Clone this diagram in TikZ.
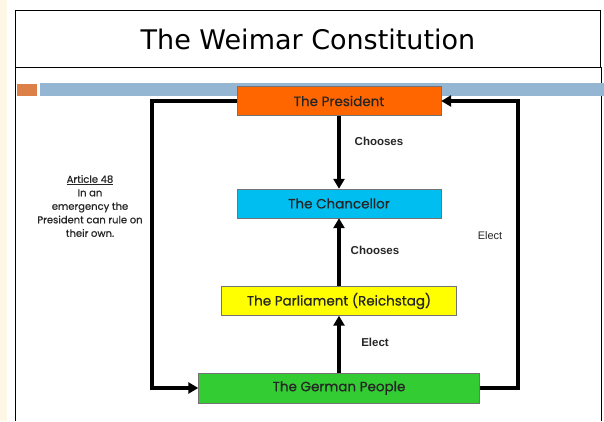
\documentclass[tikz,border=0pt]{standalone}
\usepackage{fontspec}
\setmainfont{Poppins}
\newfontfamily\boxfont{Poppins}[FakeBold=0.6]
\newfontfamily\titlefont{DejaVu Sans}
\newfontfamily\labelfont{Liberation Sans}
\usepackage{tikz}
\usetikzlibrary{arrows.meta,positioning}
\definecolor{pres-orange}{HTML}{FF6600}
\definecolor{chan-cyan}{HTML}{00BFF0}
\definecolor{parl-yellow}{HTML}{FFFF00}
\definecolor{people-green}{HTML}{33CC33}
\definecolor{bar-blue}{HTML}{94B6D2}
\definecolor{bar-orange}{HTML}{DD8047}
\definecolor{side-beige}{HTML}{FFF7E6}
\tikzset{
    role-box/.style = {draw=black!55, thin, rectangle, minimum height=29pt, inner sep=0pt, font=\boxfont\fontsize{13.5}{15}\selectfont, text=black!85},
    flow/.style = {line width=3.2pt, -{Triangle[length=10pt,width=11pt]}},
    arrow-label/.style = {font=\labelfont\bfseries\fontsize{11.5}{13}\selectfont, text=black!85},
}

\begin{document}
\begin{tikzpicture}[x=1pt,y=-1pt]
\useasboundingbox (0,0) rectangle (604,421);
\fill[side-beige] (0,0) rectangle (7,421);
% slide frame
\draw[thick] (15,10) rectangle (600,67);
\node (title) at (308,39) {\titlefont\fontsize{27}{30}\selectfont The Weimar Constitution};
\draw[thick] (15,421) -- (15,67) -- (601,67) -- (601,421);
\fill[bar-orange] (17,84) rectangle (37,96);
\fill[bar-blue] (40,83) rectangle (604,96);

\node [role-box, fill=pres-orange, minimum width=204pt] (president) at (339,101) {The President};
\node [role-box, fill=chan-cyan, minimum width=204pt] (chancellor) at (339,203.5) {The Chancellor};
\node [role-box, fill=parl-yellow, minimum width=235pt] (parliament) at (339,301) {The Parliament (Reichstag)};
\node [role-box, fill=people-green, minimum width=281pt, minimum height=30pt] (people) at (339,388) {The German People};

\draw[flow] (president) -- (chancellor);
\draw[flow] (parliament) -- (chancellor);
\draw[flow] (people) -- (parliament);

\coordinate (left-rail) at (152,101);
\coordinate (right-rail) at (518,101);
\draw[flow] (president.west) -- (left-rail) |- (people.west);
\draw[flow] (people.east) -- (people.east -| right-rail) -- (right-rail) -- (president.east);

\node[arrow-label] (chooses-top) at (379,141) {Chooses};
\node[arrow-label] (chooses-low) at (375,250) {Chooses};
\node[arrow-label] (elect-low) at (375,342) {Elect};
\node[arrow-label, font=\labelfont\fontsize{11}{12}\selectfont] (elect-right) at (490,236) {Elect};

\node[align=center, text=black!85, font=\boxfont\fontsize{10}{13.5}\selectfont] (article) at (90,206)
    {\underline{Article 48}\\In an\\emergency the\\President can rule on\\their own.};
\end{tikzpicture}
\end{document}
